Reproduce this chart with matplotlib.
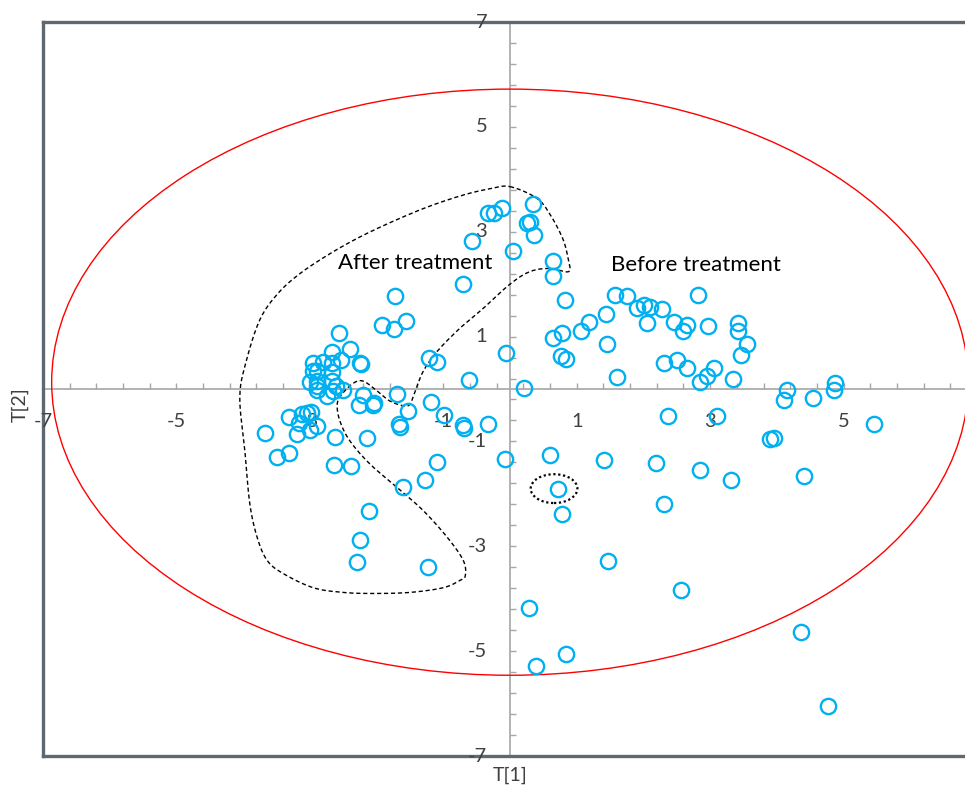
import numpy as np
import matplotlib
matplotlib.use("Agg")
import matplotlib.pyplot as plt
from matplotlib.patches import Ellipse

# SCORES T[1] / T[2]
T1 = [
    -1.92, -1.74, -1.56, -2.56, -2.40, -2.67, -2.53, -2.25, -2.24, -1.21,
    -1.09, -0.61, -1.73, -2.96, -2.81, -2.67, -2.96, -2.89, -2.67, -3.00,
    -2.89, -2.89, -2.67, -2.61, -2.50, -2.75, -2.90, -2.65, -1.70, -2.20,
    -2.27, -2.05, -2.04, -1.53, -1.19, -0.99, -0.70, -0.69, -0.33, -1.66,
    -1.65, -3.32, -3.12, -3.05, -2.99, -3.17, -3.19, -3.00, -2.90, -3.67,
    -2.62, -2.14, -3.49, -3.32, -2.64, -2.38, -1.09, -1.27, -1.61, -2.12,
    -2.25, -2.30, -1.23, -0.33, -0.24, -0.12, 0.35, 0.26, 0.30, 0.36,
    -0.57, 0.04, -0.70, -0.06, 0.21, -0.07, 0.64, 0.64, 0.83, 1.57,
    1.75, 1.44, 1.19, 1.07, 0.65, 0.78, 1.45, 0.77, 0.84, 1.60,
    1.91, 2.01, 2.10, 2.05, 2.28, 2.46, 2.66, 2.59, 2.82, 2.97,
    2.31, 2.50, 2.66, 2.85, 2.95, 3.06, 3.35, 3.42, 3.42, 3.55,
    3.46, 4.15, 4.11, 4.54, 4.87, 4.85, 3.11, 5.45, 3.89, 3.95,
    2.37, 0.60, 1.41, 2.19, 2.85, 3.32, 4.41, 0.72, 2.31, 0.78,
    1.47, 2.56, 0.28, 4.36, 0.84, 0.39, 4.77,
]
T2 = [
    1.22, 1.15, 1.29, 1.07, 0.77, 0.70, 0.56, 0.50, 0.47, 0.60,
    0.51, 0.17, 1.77, 0.50, 0.51, 0.50, 0.34, 0.34, 0.33, 0.14,
    0.15, 0.06, 0.15, 0.06, -0.01, -0.13, -0.01, -0.04, -0.10, -0.12,
    -0.31, -0.31, -0.26, -0.42, -0.25, -0.50, -0.68, -0.74, -0.67, -0.67,
    -0.72, -0.54, -0.48, -0.45, -0.43, -0.64, -0.86, -0.78, -0.70, -0.84,
    -0.91, -0.93, -1.29, -1.23, -1.45, -1.46, -1.39, -1.73, -1.86, -2.32,
    -2.88, -3.30, -3.40, 3.35, 3.35, 3.46, 3.53, 3.16, 3.18, 2.94,
    2.82, 2.64, 2.00, 0.69, 0.02, -1.33, 2.45, 2.16, 1.70, 1.79,
    1.78, 1.44, 1.28, 1.11, 0.98, 1.07, 0.86, 0.63, 0.57, 0.23,
    1.55, 1.61, 1.56, 1.26, 1.53, 1.27, 1.23, 1.10, 1.79, 1.20,
    0.49, 0.55, 0.41, 0.14, 0.25, 0.41, 0.20, 1.26, 1.10, 0.85,
    0.64, -0.01, -0.21, -0.18, 0.11, -0.01, -0.51, -0.67, -0.96, -0.93,
    -0.51, -1.26, -1.36, -1.41, -1.54, -1.73, -1.66, -1.91, -2.19, -2.38,
    -3.29, -3.83, -4.18, -4.64, -5.05, -5.29, -6.05,
]

# Outline of the "After treatment" group (hand traced, closed)
GRUPO_X = [
    0.00, 0.40, 0.60, 0.79, 0.87, 0.88, 0.60, 0.30, 0.00, -0.40,
    -0.75, -1.09, -1.30, -1.42, -1.50, -1.60, -1.80, -1.99, -2.20, -2.35,
    -2.52, -2.59, -2.55, -2.40, -2.10, -1.69, -1.30, -0.94, -0.70, -0.67,
    -0.75, -1.00, -1.50, -2.05, -2.50, -2.95, -3.40, -3.64, -3.79, -3.90,
    -3.97, -4.05, -3.96, -3.75, -3.48, -3.15, -2.70, -2.25, -1.75, -1.22,
    -0.70, -0.30,
]
GRUPO_Y = [
    3.86, 3.64, 3.33, 2.87, 2.49, 2.24, 2.30, 2.24, 2.00, 1.54,
    1.16, 0.72, 0.34, -0.04, -0.29, -0.32, -0.23, -0.04, 0.15, 0.11,
    -0.10, -0.29, -0.61, -0.99, -1.43, -1.88, -2.32, -2.83, -3.27, -3.56,
    -3.65, -3.79, -3.88, -3.90, -3.88, -3.79, -3.52, -3.27, -2.83, -2.19,
    -1.24, -0.17, 0.50, 1.32, 1.82, 2.20, 2.58, 2.90, 3.20, 3.48,
    3.70, 3.82,
]

ETIQUETAS_X = [-7, -5, -3, -1, 1, 3, 5]
ETIQUETAS_Y = [-7, -5, -3, -1, 1, 3, 5, 7]

AZUL = "#00B0F0"
GRIS_TXT = "#404040"
GRIS_EJE = "#A6A6A6"
GRIS_MARCO = "#5E6870"


def suavizar_cerrado(xs, ys, n=12):
    # Catmull-Rom cerrado, solo para que el contorno dibujado a mano no quede anguloso
    p = np.column_stack([xs, ys])
    k = len(p)
    t = np.linspace(0, 1, n, endpoint=False)[:, None]
    tramos = []
    for i in range(k):
        p0, p1, p2, p3 = p[i - 1], p[i], p[(i + 1) % k], p[(i + 2) % k]
        tramos.append(0.5 * (2 * p1 + (-p0 + p2) * t
                             + (2 * p0 - 5 * p1 + 4 * p2 - p3) * t ** 2
                             + (-p0 + 3 * p1 - 3 * p2 + p3) * t ** 3))
    c = np.vstack(tramos + [p[:1]])
    return c[:, 0], c[:, 1]


def graficar():
    plt.rcParams['font.family'] = ['Lato', 'DejaVu Sans']
    fig = plt.figure(figsize=(9.65, 7.9), dpi=100)
    ax = fig.add_axes([43 / 965, 34 / 790, 922 / 965, 734 / 790])
    ax.set_xlim(-7, 6.82)
    ax.set_ylim(-7, 7)

    # marco
    for lado in ['left', 'top', 'bottom']:
        ax.spines[lado].set_color(GRIS_MARCO)
        ax.spines[lado].set_linewidth(2.4)
    ax.spines['right'].set_visible(False)
    ax.set_xticks([])
    ax.set_yticks([])

    # ejes en cero con marcas menores cada 0.4
    ax.axhline(0, color=GRIS_EJE, lw=1.2, zorder=1)
    ax.axvline(0, color=GRIS_EJE, lw=1.2, zorder=1)
    marcas = np.arange(-7, 7.01, 0.4)
    ax.vlines(marcas, 0, 0.11, color=GRIS_EJE, lw=1.0, zorder=1)
    ax.hlines(marcas, 0, 0.09, color=GRIS_EJE, lw=1.0, zorder=1)

    for v in ETIQUETAS_X:
        ax.text(v, -0.62, str(v), ha='center', va='center', fontsize=14.5, color=GRIS_TXT)
    for v in ETIQUETAS_Y:
        ax.text(-0.34, v, str(v), ha='right', va='center', fontsize=14.5, color=GRIS_TXT)

    # elipse de Hotelling
    ax.add_patch(Ellipse((0, 0.13), 2 * 6.87, 2 * 5.59, fill=False,
                         edgecolor='#FF0000', lw=1.0, zorder=2))

    cx, cy = suavizar_cerrado(GRUPO_X, GRUPO_Y)
    ax.plot(cx, cy, color='black', lw=1.0, ls=(0, (3, 2)), zorder=2)
    ax.add_patch(Ellipse((0.66, -1.90), 0.70, 0.55, fill=False,
                         edgecolor='black', lw=1.6, ls=(0, (1, 1.2)), zorder=2))

    ax.plot(T1, T2, 'o', ms=11, mfc='none', mec=AZUL, mew=1.7, zorder=3)

    ax.text(-1.42, 2.40, "After treatment", ha='center', va='center', fontsize=16, color='black')
    ax.text(2.79, 2.36, "Before treatment", ha='center', va='center', fontsize=16, color='black')

    fig.text(510 / 965, 1 - 775 / 790, "T[1]", ha='center', va='center', fontsize=14, color=GRIS_TXT)
    fig.text(20 / 965, 1 - 405 / 790, "T[2]", ha='center', va='center', rotation=90,
             fontsize=14, color=GRIS_TXT)

    fig.savefig("out.png", dpi=100)
    plt.close(fig)


if __name__ == "__main__":
    graficar()
